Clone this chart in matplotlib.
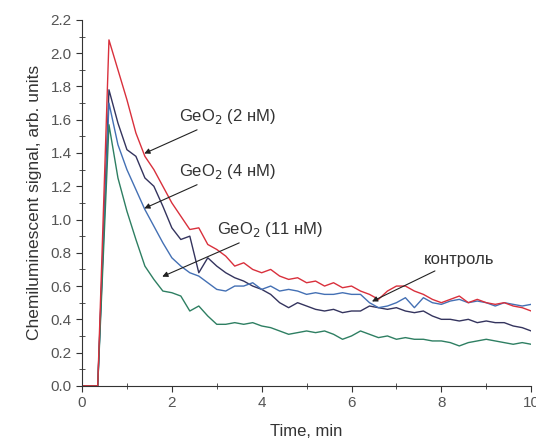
import matplotlib
matplotlib.use('Agg')
import matplotlib.pyplot as plt
import numpy as np
from matplotlib.ticker import MultipleLocator, FormatStrFormatter

plt.rcParams['font.family'] = ['Liberation Sans', 'DejaVu Sans']

# time axis: baseline, onset, then one reading every 0.2 min
t_start = [0.0, 0.35]
t_decay = list(np.round(np.arange(0.6, 10.01, 0.2), 2))
time = t_start + t_decay

geo2_2nm = [0, 0,
            2.08, 1.90, 1.72, 1.52, 1.38, 1.30, 1.20, 1.10, 1.02, 0.94,
            0.95, 0.85, 0.82, 0.78, 0.72, 0.74, 0.70, 0.68, 0.70, 0.66,
            0.64, 0.65, 0.62, 0.63, 0.60, 0.62, 0.59, 0.60, 0.57, 0.55,
            0.52, 0.57, 0.60, 0.60, 0.57, 0.55, 0.52, 0.50, 0.52, 0.54,
            0.50, 0.52, 0.50, 0.49, 0.50, 0.48, 0.47, 0.45]

dark = [0, 0,
        1.78, 1.58, 1.42, 1.38, 1.25, 1.20, 1.08, 0.95, 0.88, 0.90,
        0.68, 0.77, 0.72, 0.68, 0.65, 0.63, 0.60, 0.58, 0.55, 0.50,
        0.47, 0.50, 0.48, 0.46, 0.45, 0.46, 0.44, 0.45, 0.45, 0.48,
        0.47, 0.46, 0.47, 0.45, 0.44, 0.45, 0.42, 0.40, 0.40, 0.39,
        0.40, 0.38, 0.39, 0.38, 0.38, 0.36, 0.35, 0.33]

blue = [0, 0,
        1.70, 1.45, 1.30, 1.18, 1.06, 0.96, 0.86, 0.77, 0.72, 0.68,
        0.66, 0.62, 0.58, 0.57, 0.60, 0.60, 0.62, 0.58, 0.60, 0.57,
        0.58, 0.57, 0.55, 0.56, 0.55, 0.55, 0.56, 0.55, 0.55, 0.50,
        0.47, 0.48, 0.50, 0.53, 0.47, 0.53, 0.50, 0.49, 0.51, 0.52,
        0.50, 0.51, 0.50, 0.48, 0.50, 0.49, 0.48, 0.49]

geo2_11nm = [0, 0,
             1.57, 1.25, 1.05, 0.88, 0.72, 0.64, 0.57, 0.56, 0.54, 0.45,
             0.48, 0.42, 0.37, 0.37, 0.38, 0.37, 0.38, 0.36, 0.35, 0.33,
             0.31, 0.32, 0.33, 0.32, 0.33, 0.31, 0.28, 0.30, 0.33, 0.31,
             0.29, 0.30, 0.28, 0.29, 0.28, 0.28, 0.27, 0.27, 0.26, 0.24,
             0.26, 0.27, 0.28, 0.27, 0.26, 0.25, 0.26, 0.25]

fig = plt.figure(figsize=(5.36, 4.43), dpi=100)
ax = fig.add_axes([0.153, 0.129, 0.838, 0.826])

ax.plot(time, dark, color='#34345e', lw=1.0)
ax.plot(time, blue, color='#4470b4', lw=1.0)
ax.plot(time, geo2_11nm, color='#2e7f62', lw=1.0)
ax.plot(time, geo2_2nm, color='#d9303c', lw=1.0)

ax.set_xlim(0, 10)
ax.set_ylim(0, 2.2)
ax.xaxis.set_major_locator(MultipleLocator(2))
ax.xaxis.set_minor_locator(MultipleLocator(1))
ax.yaxis.set_major_locator(MultipleLocator(0.2))
ax.yaxis.set_minor_locator(MultipleLocator(0.1))
ax.yaxis.set_major_formatter(FormatStrFormatter('%.1f'))

for side in ['top', 'right']:
    ax.spines[side].set_visible(False)
for side in ['left', 'bottom']:
    ax.spines[side].set_color('#333333')
ax.tick_params(which='major', direction='out', length=4, color='#333333',
               labelsize=11, labelcolor='#555555')
ax.tick_params(which='minor', direction='inout', length=4, color='#333333')

ax.set_xlabel('Time, min', fontsize=12, color='#333333', labelpad=10)
ax.set_ylabel('Chemiluminescent signal, arb. units', fontsize=12.5,
              color='#333333', labelpad=6)

arrow = dict(arrowstyle='-|>', color='#222222', lw=0.8, mutation_scale=8)
ax.annotate('GeO$_2$ (2 нМ)', xy=(1.33, 1.39), xytext=(2.15, 1.62),
            fontsize=12, color='#333333', va='center', arrowprops=arrow)
ax.annotate('GeO$_2$ (4 нМ)', xy=(1.33, 1.06), xytext=(2.15, 1.29),
            fontsize=12, color='#333333', va='center', arrowprops=arrow)
ax.annotate('GeO$_2$ (11 нМ)', xy=(1.73, 0.65), xytext=(3.0, 0.94),
            fontsize=12, color='#333333', va='center', arrowprops=arrow)
ax.annotate('контроль', xy=(6.4, 0.50), xytext=(7.6, 0.76),
            fontsize=12, color='#333333', va='center', arrowprops=arrow)

fig.savefig('out.png', dpi=100)
